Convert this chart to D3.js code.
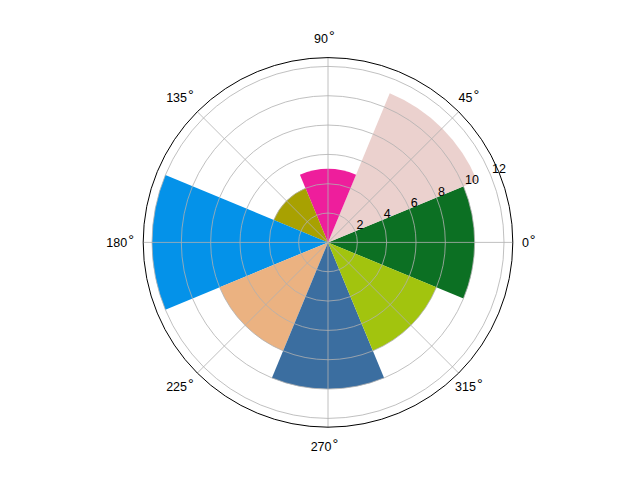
<!DOCTYPE html>
<html>
<head>
<meta charset="utf-8">
<script src="https://cdn.jsdelivr.net/npm/d3@7"></script>
<style>
  html, body { margin: 0; padding: 0; background: #ffffff; }
  svg { display: block; }
  text { font-family: "Liberation Sans", Arial, sans-serif; fill: #000; }
</style>
</head>
<body>
<script>
// ---- data ----
const angles = [0, 45, 90, 135, 180, 225, 270, 315];   // bar centres, degrees
const values = [10, 11, 5, 4, 12, 8, 10, 8];            // bar heights
const colors = ["#0c7023", "#ebd1ce", "#ee1e9c", "#a8a101", "#0492e9", "#ebb281", "#3b6ea0", "#a2c40e"];
const barWidthDeg = 45;
const radialTicks = [2, 4, 6, 8, 10, 12];
const thetaTicks = [0, 45, 90, 135, 180, 225, 270, 315];
const rMax = 12.6;

// ---- layout ----
const W = 640, H = 480;
const cx = 328, cy = 242.4, R = 184.8;
const fontSize = 12.5;

const svg = d3.select("body").append("svg").attr("width", W).attr("height", H);
const g = svg.append("g").attr("transform", `translate(${cx},${cy})`);

const r = d3.scaleLinear().domain([0, rMax]).range([0, R]);
// math angle (deg, ccw from east) -> d3 arc angle (rad, cw from north)
const a = d3.scaleLinear().domain([0, 360]).range([Math.PI / 2, Math.PI / 2 - 2 * Math.PI]);
const rad = d => d * Math.PI / 180;

// bars
const arc = d3.arc();
g.append("g").selectAll("path")
  .data(angles.map((ang, i) => ({ ang, v: values[i], c: colors[i] })))
  .join("path")
  .attr("d", d => arc({
    innerRadius: 0,
    outerRadius: r(d.v),
    startAngle: a(d.ang + barWidthDeg / 2),
    endAngle: a(d.ang - barWidthDeg / 2)
  }))
  .attr("fill", d => d.c);

// grid circles
const grid = g.append("g").attr("fill", "none").attr("stroke", "#b0b0b0").attr("stroke-width", 0.8);
grid.selectAll("circle").data(radialTicks).join("circle").attr("r", d => r(d));
// radial grid lines
grid.selectAll("line").data(thetaTicks).join("line")
  .attr("x1", 0).attr("y1", 0)
  .attr("x2", d => R * Math.cos(rad(d)))
  .attr("y2", d => -R * Math.sin(rad(d)));

// outer spine
g.append("circle").attr("r", R).attr("fill", "none").attr("stroke", "#000").attr("stroke-width", 1);

// radial tick labels at 22.5 deg
const rlAng = rad(22.5);
g.append("g").selectAll("text").data(radialTicks).join("text")
  .attr("x", d => r(d) * Math.cos(rlAng) + 1.5)
  .attr("y", d => -r(d) * Math.sin(rlAng) - 2)
  .attr("font-size", fontSize)
  .text(d => d);

// angular tick labels
const digitW = 0.556 * fontSize;
const fullW = 13.9;
const tl = g.append("g");
thetaTicks.forEach(t => {
  const s = String(t);
  const w = s.length * digitW + fullW;
  const px = (R + 19.5) * Math.cos(rad(t));
  const py = -(R + 19.5) * Math.sin(rad(t));
  const txt = tl.append("text")
    .attr("x", px - w / 2)
    .attr("y", py + 4.5)
    .attr("font-size", fontSize);
  txt.append("tspan").text(s);
  txt.append("tspan").attr("dx", 1).attr("dy", -2).attr("font-size", 14.5).text("°");
});
</script>
</body>
</html>
